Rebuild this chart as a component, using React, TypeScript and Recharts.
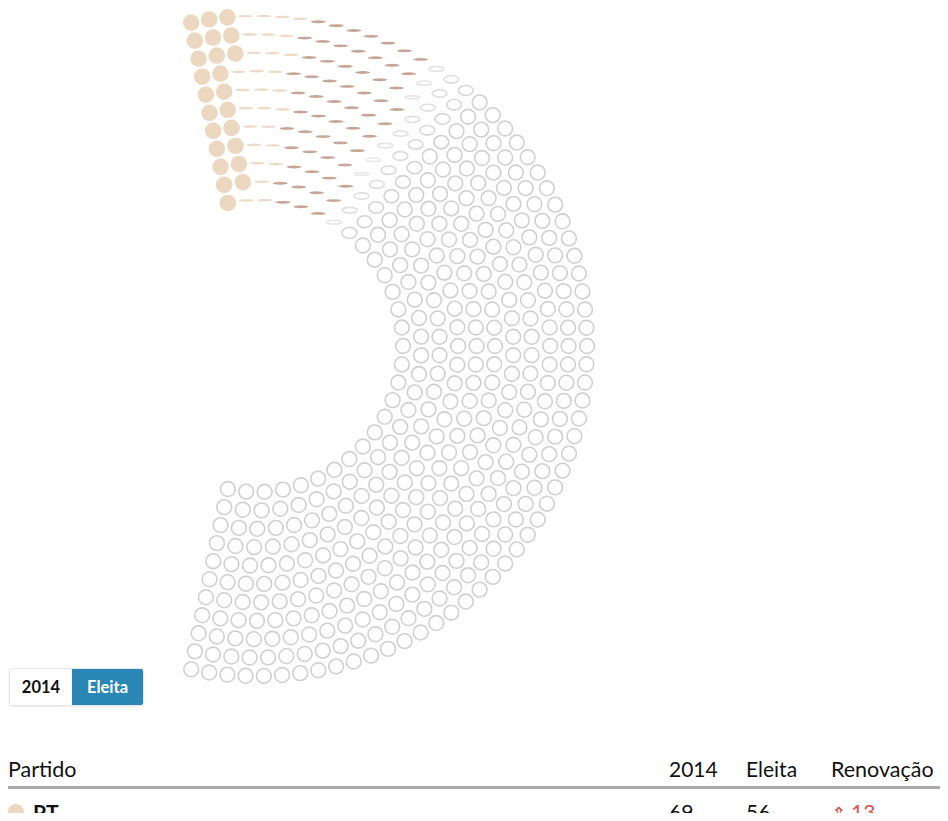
import React from 'react';
import { ScatterChart, Scatter, XAxis, YAxis } from 'recharts';

// Câmara: 513 cadeiras em 11 fileiras
const TOTAL_SEATS = 513;
const ROWS = 11;

// grupos de cadeiras na ordem angular (ponta de cima -> ponta de baixo), capturados no meio da transição
const groupNames = ['PT', 'PT (transição)', 'Outros (transição)', 'Vagas (entrando)', 'Vagas'];
const groupSeats = [24, 28, 58, 29, 374];

// tabela
const parties = ['PT'];
const seats2014 = [69];
const seatsElected = [56];
const renewal = [13];

// estilos (fora dos dados)
const groupFill = ['#ecd7c0', '#eedbc7', '#c6a696', '#ffffff', '#ffffff'];
const groupStroke = ['none', 'none', 'none', '#d6d6d6', '#d0d0d0'];
const groupSquash = [1, 0.17, 0.19, 0.5, 1];
const groupRadius = [8.3, 7.5, 7.5, 7.4, 7.4];
const RAMP_GROUP = 3; // este grupo cresce de achatado para redondo ao longo do ângulo

const INNER_RADIUS = 146;
const OUTER_RADIUS = 330;
const HALF_SPAN = 101.5; // graus para cada lado da horizontal

interface Seat {
    x: number;
    y: number;
    group: number;
    t: number; // posição relativa dentro do grupo (0..1)
}

function layoutSeats(): Seat[] {
    const radii = Array.from({ length: ROWS }, (_, i) => INNER_RADIUS + ((OUTER_RADIUS - INNER_RADIUS) * i) / (ROWS - 1));
    const sumR = radii.reduce((a, b) => a + b, 0);
    const counts = radii.map(r => Math.round((TOTAL_SEATS * r) / sumR));
    let diff = TOTAL_SEATS - counts.reduce((a, b) => a + b, 0);
    let k = ROWS - 1;
    while (diff !== 0) {
        counts[k] += Math.sign(diff);
        diff -= Math.sign(diff);
        k = (k - 1 + ROWS) % ROWS;
    }

    const raw: { angle: number; r: number }[] = [];
    radii.forEach((r, i) => {
        const n = counts[i];
        for (let j = 0; j < n; j++) {
            raw.push({ angle: HALF_SPAN - (2 * HALF_SPAN * j) / (n - 1), r });
        }
    });
    raw.sort((p, q) => q.angle - p.angle || q.r - p.r);

    const out: Seat[] = [];
    let g = 0;
    let idx = 0;
    raw.forEach(s => {
        while (idx >= groupSeats[g] && g < groupSeats.length - 1) {
            g++;
            idx = 0;
        }
        const a = (s.angle * Math.PI) / 180;
        out.push({ x: s.r * Math.cos(a), y: s.r * Math.sin(a), group: g, t: groupSeats[g] > 1 ? idx / (groupSeats[g] - 1) : 0 });
        idx++;
    });
    return out;
}

const seats = layoutSeats();
const seatsByGroup = groupNames.map((_, gi) => seats.filter(s => s.group === gi));

const SeatShape = (props: any) => {
    const { cx, cy, payload } = props;
    const g = payload.group;
    const r = groupRadius[g];
    let squash = groupSquash[g];
    let stroke = groupStroke[g];
    if (g === RAMP_GROUP) {
        squash = 0.18 + 0.72 * payload.t;
        const c = Math.round(232 - 24 * payload.t);
        stroke = `rgb(${c},${c},${c})`;
    }
    return (
        <ellipse
            cx={cx}
            cy={cy}
            rx={r}
            ry={r * squash}
            fill={groupFill[g]}
            stroke={stroke}
            strokeWidth={1.6}
        />
    );
};

const font = 'Lato, "Open Sans", sans-serif';

export default function App() {
    return (
        <div style={{ position: 'relative', margin: -8, width: 948, height: 821, overflow: 'hidden', fontFamily: font, color: '#111' }}>
            <div style={{ position: 'absolute', left: 0, top: 0 }}>
                <ScatterChart width={948} height={700} margin={{ top: 0, right: 0, bottom: 0, left: 0 }}>
                    <XAxis type="number" dataKey="x" domain={[-257, 691]} hide />
                    <YAxis type="number" dataKey="y" domain={[-354, 346]} hide />
                    {seatsByGroup.map((data, gi) => (
                        <Scatter
                            key={groupNames[gi]}
                            name={groupNames[gi]}
                            data={data}
                            shape={SeatShape}
                            isAnimationActive={false}
                        />
                    ))}
                </ScatterChart>
            </div>

            {/* seletor 2014 / Eleita */}
            <div
                style={{
                    position: 'absolute',
                    left: 9,
                    top: 668,
                    height: 38,
                    display: 'flex',
                    borderRadius: 3,
                    overflow: 'hidden',
                    border: '1px solid #e6e6e6',
                    boxShadow: '0 1px 2px rgba(0,0,0,0.08)',
                    fontWeight: 700,
                    fontSize: 16.5,
                    boxSizing: 'border-box'
                }}
            >
                <div style={{ width: 62, display: 'flex', alignItems: 'center', justifyContent: 'center', background: '#fff', color: '#111' }}>2014</div>
                <div style={{ width: 71, display: 'flex', alignItems: 'center', justifyContent: 'center', background: '#2a86b4', color: '#fff' }}>Eleita</div>
            </div>

            {/* tabela */}
            <div style={{ position: 'absolute', top: 756, left: 8, fontSize: 21.5, lineHeight: '26px' }}>Partido</div>
            <div style={{ position: 'absolute', top: 756, left: 669, fontSize: 21, lineHeight: '26px' }}>2014</div>
            <div style={{ position: 'absolute', top: 756, left: 746, fontSize: 21, lineHeight: '26px' }}>Eleita</div>
            <div style={{ position: 'absolute', top: 756, left: 831, fontSize: 21.5, lineHeight: '26px' }}>Renovação</div>
            <div style={{ position: 'absolute', top: 786, left: 8, width: 940, height: 3, background: '#a9a9a9' }} />

            {parties.map((p, i) => (
                <React.Fragment key={p}>
                    <div style={{ position: 'absolute', left: 8, top: 804 + i * 40, width: 16, height: 16, borderRadius: 8, background: groupFill[0] }} />
                    <div style={{ position: 'absolute', left: 33, top: 799 + i * 40, fontSize: 21, lineHeight: '26px', fontWeight: 700 }}>{p}</div>
                    <div style={{ position: 'absolute', left: 669, top: 799 + i * 40, fontSize: 21, lineHeight: '26px' }}>{seats2014[i]}</div>
                    <div style={{ position: 'absolute', left: 746, top: 799 + i * 40, fontSize: 21, lineHeight: '26px' }}>{seatsElected[i]}</div>
                    <div style={{ position: 'absolute', left: 831, top: 799 + i * 40, fontSize: 21, lineHeight: '26px', color: '#d9534f' }}>
                        <span style={{ fontSize: 18, fontFamily: '"DejaVu Sans", sans-serif', marginRight: 5 }}>⇑</span>
                        {renewal[i]}
                    </div>
                </React.Fragment>
            ))}
        </div>
    );
}
